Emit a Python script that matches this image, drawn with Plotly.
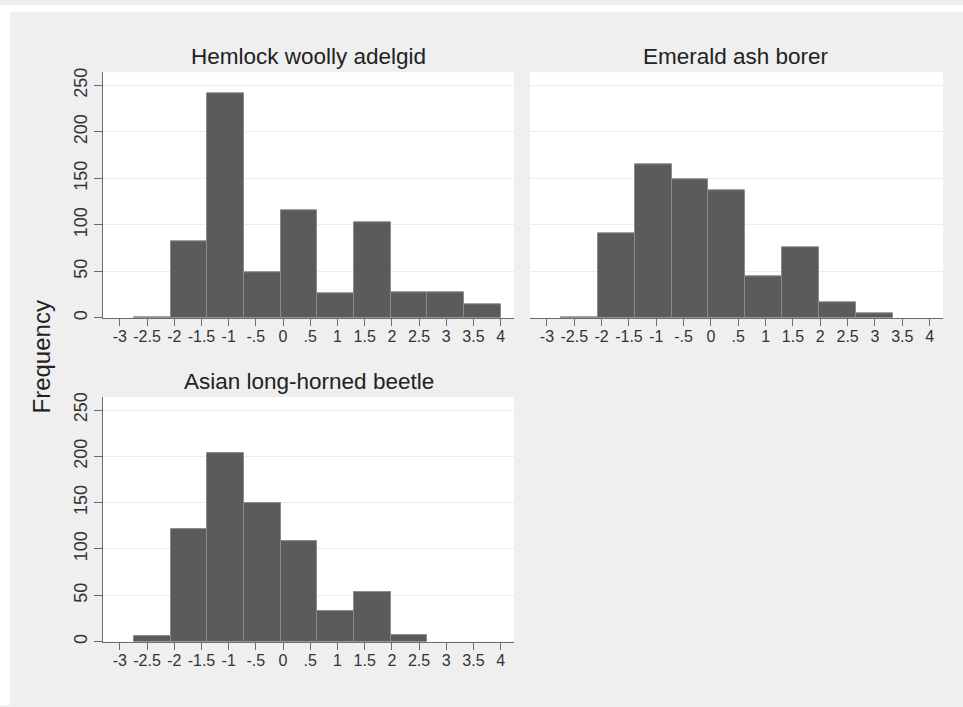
import plotly.graph_objects as go

# ---- data ----
bin_start = -2.743
bin_width = 0.6743
hemlock = [1, 82, 241, 49, 116, 26, 103, 28, 28, 15]
emerald = [1, 91, 165, 149, 137, 45, 76, 17, 5, 0]
asian = [6, 122, 204, 150, 109, 33, 54, 7, 0, 0]
titles = ["Hemlock woolly adelgid", "Emerald ash borer", "Asian long-horned beetle"]
x_tickvals = [-3, -2.5, -2, -1.5, -1, -0.5, 0, 0.5, 1, 1.5, 2, 2.5, 3, 3.5, 4]
x_ticktext = ["-3", "-2.5", "-2", "-1.5", "-1", "-.5", "0", ".5", "1", "1.5", "2", "2.5", "3", "3.5", "4"]
y_tickvals = [0, 50, 100, 150, 200, 250]
y_label = "Frequency"

W, H = 963, 707
FONT = "Liberation Sans, Arial, Helvetica, sans-serif"
BAR_FILL = "#5b5b5b"
BAR_LINE = "#8a8a8a"
GRID = "#ececec"
AXIS = "#6c6c6c"
BG = "#efefef"

centers = [bin_start + bin_width * (i + 0.5) for i in range(len(hemlock))]

def fx(px):
    return px / W

def fy(py):
    return 1 - py / H

# panels: (left, right, top, bottom) in page pixels
panels = [
    (103, 514, 68, 316),
    (530, 943, 68, 316),
    (103, 514, 396, 643),
]
series = [hemlock, emerald, asian]

fig = go.Figure()
layout = dict(
    width=W, height=H, autosize=False,
    margin=dict(l=0, r=0, t=0, b=0),
    paper_bgcolor=BG, plot_bgcolor="white",
    showlegend=False, bargap=0,
    font=dict(family=FONT, color="#333333"),
)

annotations = []
for i, (vals, (l, r, t, b), title) in enumerate(zip(series, panels, titles)):
    n = "" if i == 0 else str(i + 1)
    xs = [c for c, v in zip(centers, vals) if v > 0]
    ys = [v for v in vals if v > 0]
    fig.add_trace(go.Bar(
        x=xs, y=ys, width=[bin_width] * len(xs),
        marker=dict(color=BAR_FILL, line=dict(color=BAR_LINE, width=1)),
        xaxis="x" + n, yaxis="y" + n, hoverinfo="x+y",
    ))
    layout["xaxis" + n] = dict(
        domain=[fx(l), fx(r)], anchor="y" + n, range=[-3.31, 4.245],
        tickvals=x_tickvals, ticktext=x_ticktext, ticks="outside", ticklen=7,
        tickwidth=1.2, tickcolor=AXIS, showline=True, linecolor=AXIS, linewidth=1.3,
        showgrid=False, zeroline=False, tickfont=dict(size=16, color="#333333"),
        ticklabelstandoff=-3, fixedrange=True,
    )
    show_y = i != 1
    layout["yaxis" + n] = dict(
        domain=[fy(b), fy(t)], anchor="x" + n, range=[0, 264],
        tickvals=y_tickvals, ticks="outside" if show_y else "", ticklen=8,
        tickwidth=1.2, tickcolor=AXIS, showline=show_y, linecolor=AXIS, linewidth=1.3,
        showticklabels=show_y, tickangle=-90,
        showgrid=True, gridcolor=GRID, gridwidth=1.2, zeroline=False,
        tickfont=dict(size=18, color="#333333"), fixedrange=True,
    )
    annotations.append(dict(
        text=title, x=(fx(l) + fx(r)) / 2, y=fy(t - 16), xref="paper", yref="paper",
        xanchor="center", yanchor="middle", showarrow=False,
        font=dict(size=22.5, color="#222222", family=FONT),
    ))

annotations.append(dict(
    text=y_label, x=fx(41), y=fy(356), xref="paper", yref="paper",
    xanchor="center", yanchor="middle", showarrow=False, textangle=-90,
    font=dict(size=24, color="#222222", family=FONT),
))
layout["annotations"] = annotations
layout["shapes"] = [
    dict(type="rect", xref="paper", yref="paper", x0=0, x1=fx(10), y0=0, y1=1,
         fillcolor="white", line=dict(width=0), layer="below"),
    dict(type="rect", xref="paper", yref="paper", x0=0, x1=1, y0=fy(7), y1=1,
         fillcolor="white", line=dict(width=0), layer="below"),
]
fig.update_layout(**layout)

page_css = (
    "document.body.style.margin='0';"
    "document.documentElement.style.overflow='hidden';"
    "document.documentElement.style.background="
    "'linear-gradient(to right, white 0, white 10px, " + BG + " 10px)';"
)
fig.write_html("out.html", config={"displayModeBar": False}, post_script=page_css)
